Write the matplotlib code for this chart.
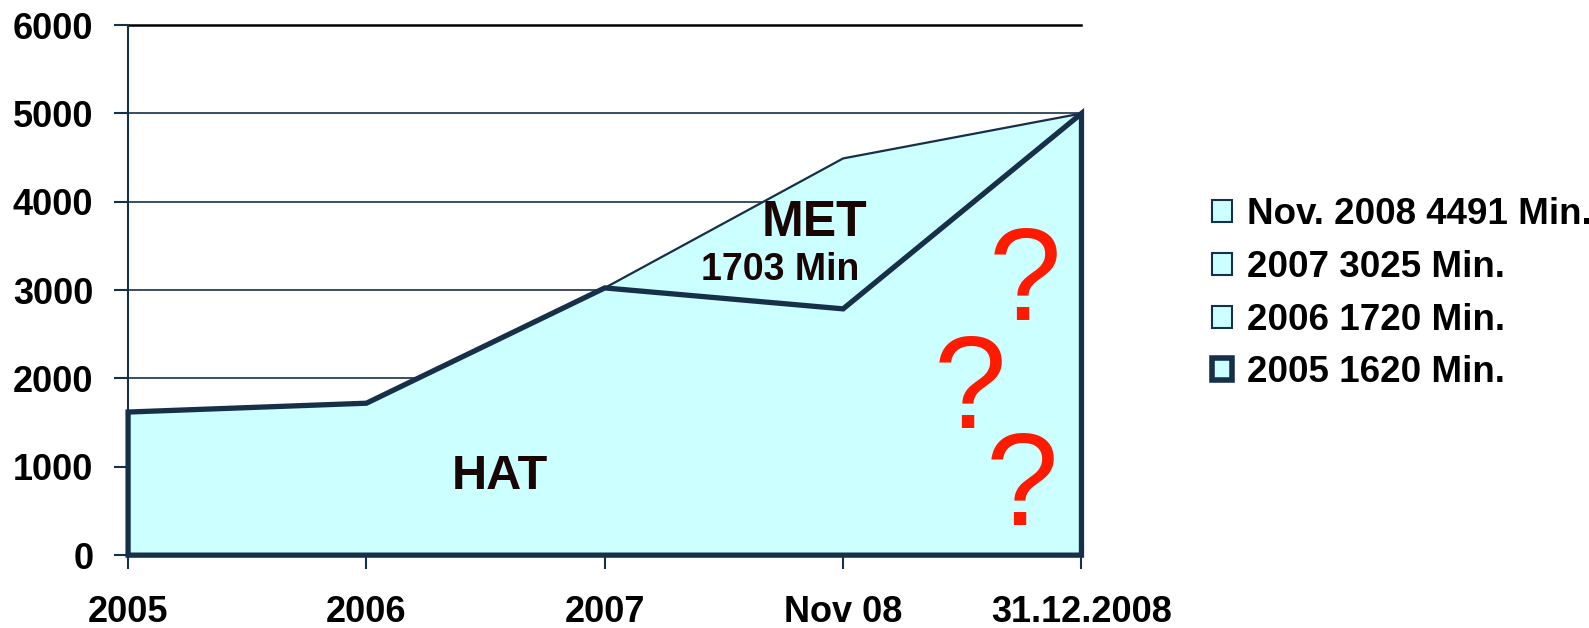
import numpy as np
import matplotlib.pyplot as plt
from matplotlib.patches import Patch

plt.rcParams['font.family'] = ['Liberation Sans', 'DejaVu Sans']

categories = ["2005", "2006", "2007", "Nov 08", "31.12.2008"]
met_total = [1620, 1720, 3025, 4491, 5000]   # upper thin line (HAT + MET)
hat = [1620, 1720, 3025, 2788, 5000]         # lower thick line

legend_labels = ["Nov. 2008 4491 Min.", "2007 3025 Min.",
                 "2006 1720 Min.", "2005 1620 Min."]

fill = '#ccffff'
dark = '#17304a'

fig = plt.figure(figsize=(15.89, 6.28), dpi=100)
ax = fig.add_axes([0.0806, 0.116, 0.6, 0.844])

x = np.arange(len(categories))

# upper area with thin border
ax.fill_between(x, 0, met_total, facecolor=fill, edgecolor='none', zorder=2)
ax.plot(x, met_total, color=dark, lw=1.6, zorder=3)

# lower area with thick outline
px = np.concatenate([[x[0]], x, [x[-1]]])
py = np.concatenate([[0], hat, [0]])
ax.fill(px, py, facecolor=fill, edgecolor=dark, lw=3.8, joinstyle='miter',
        zorder=4, clip_on=False)

ax.set_xlim(0, 4)
ax.set_ylim(0, 6000)
ax.set_yticks(np.arange(0, 6001, 1000))
ax.set_xticks(x)
ax.set_xticklabels(categories)
ax.yaxis.grid(True, color=dark, lw=1.2, zorder=1)
ax.set_axisbelow(True)
for s in ['top', 'right', 'bottom']:
    ax.spines[s].set_visible(False)
ax.spines['left'].set_color(dark)
ax.spines['left'].set_linewidth(1.5)
ax.axhline(6000, color='black', lw=1.8, zorder=1, clip_on=False)

ax.tick_params(axis='y', length=10, width=1.5, color=dark, pad=15,
               labelsize=26)
ax.tick_params(axis='x', length=10, width=1.5, color=dark, pad=19,
               labelsize=26)
for lbl in ax.get_xticklabels() + ax.get_yticklabels():
    lbl.set_fontweight('bold')

ax.text(1.56, 895, "HAT", fontsize=35, fontweight='bold', color='#1a0505',
        ha='center', va='center', zorder=6)
ax.text(2.88, 3760, "MET", fontsize=36, fontweight='bold', color='#1a0505',
        ha='center', va='center', zorder=6)
ax.text(2.735, 3224, "1703 Min", fontsize=27, fontweight='bold',
        color='#1a0505', ha='center', va='center', zorder=6)

for qx, qy in [(3.762, 3050), (3.533, 1835), (3.75, 732)]:
    ax.text(qx, qy, "?", fontsize=94, color='#ff1a00', ha='center',
            va='center', zorder=6)

handles = [Patch(facecolor=fill, edgecolor=dark, lw=1.5),
           Patch(facecolor=fill, edgecolor=dark, lw=1.5),
           Patch(facecolor=fill, edgecolor=dark, lw=1.5),
           Patch(facecolor=fill, edgecolor=dark, lw=4)]
fig.legend(handles, legend_labels, loc='center left',
           bbox_to_anchor=(0.742, 0.532), frameon=False,
           prop={'size': 26.5, 'weight': 'bold'}, handlelength=0.55,
           handleheight=0.55, handletextpad=0.4, labelspacing=0.48)

fig.savefig("out.png", dpi=100)
